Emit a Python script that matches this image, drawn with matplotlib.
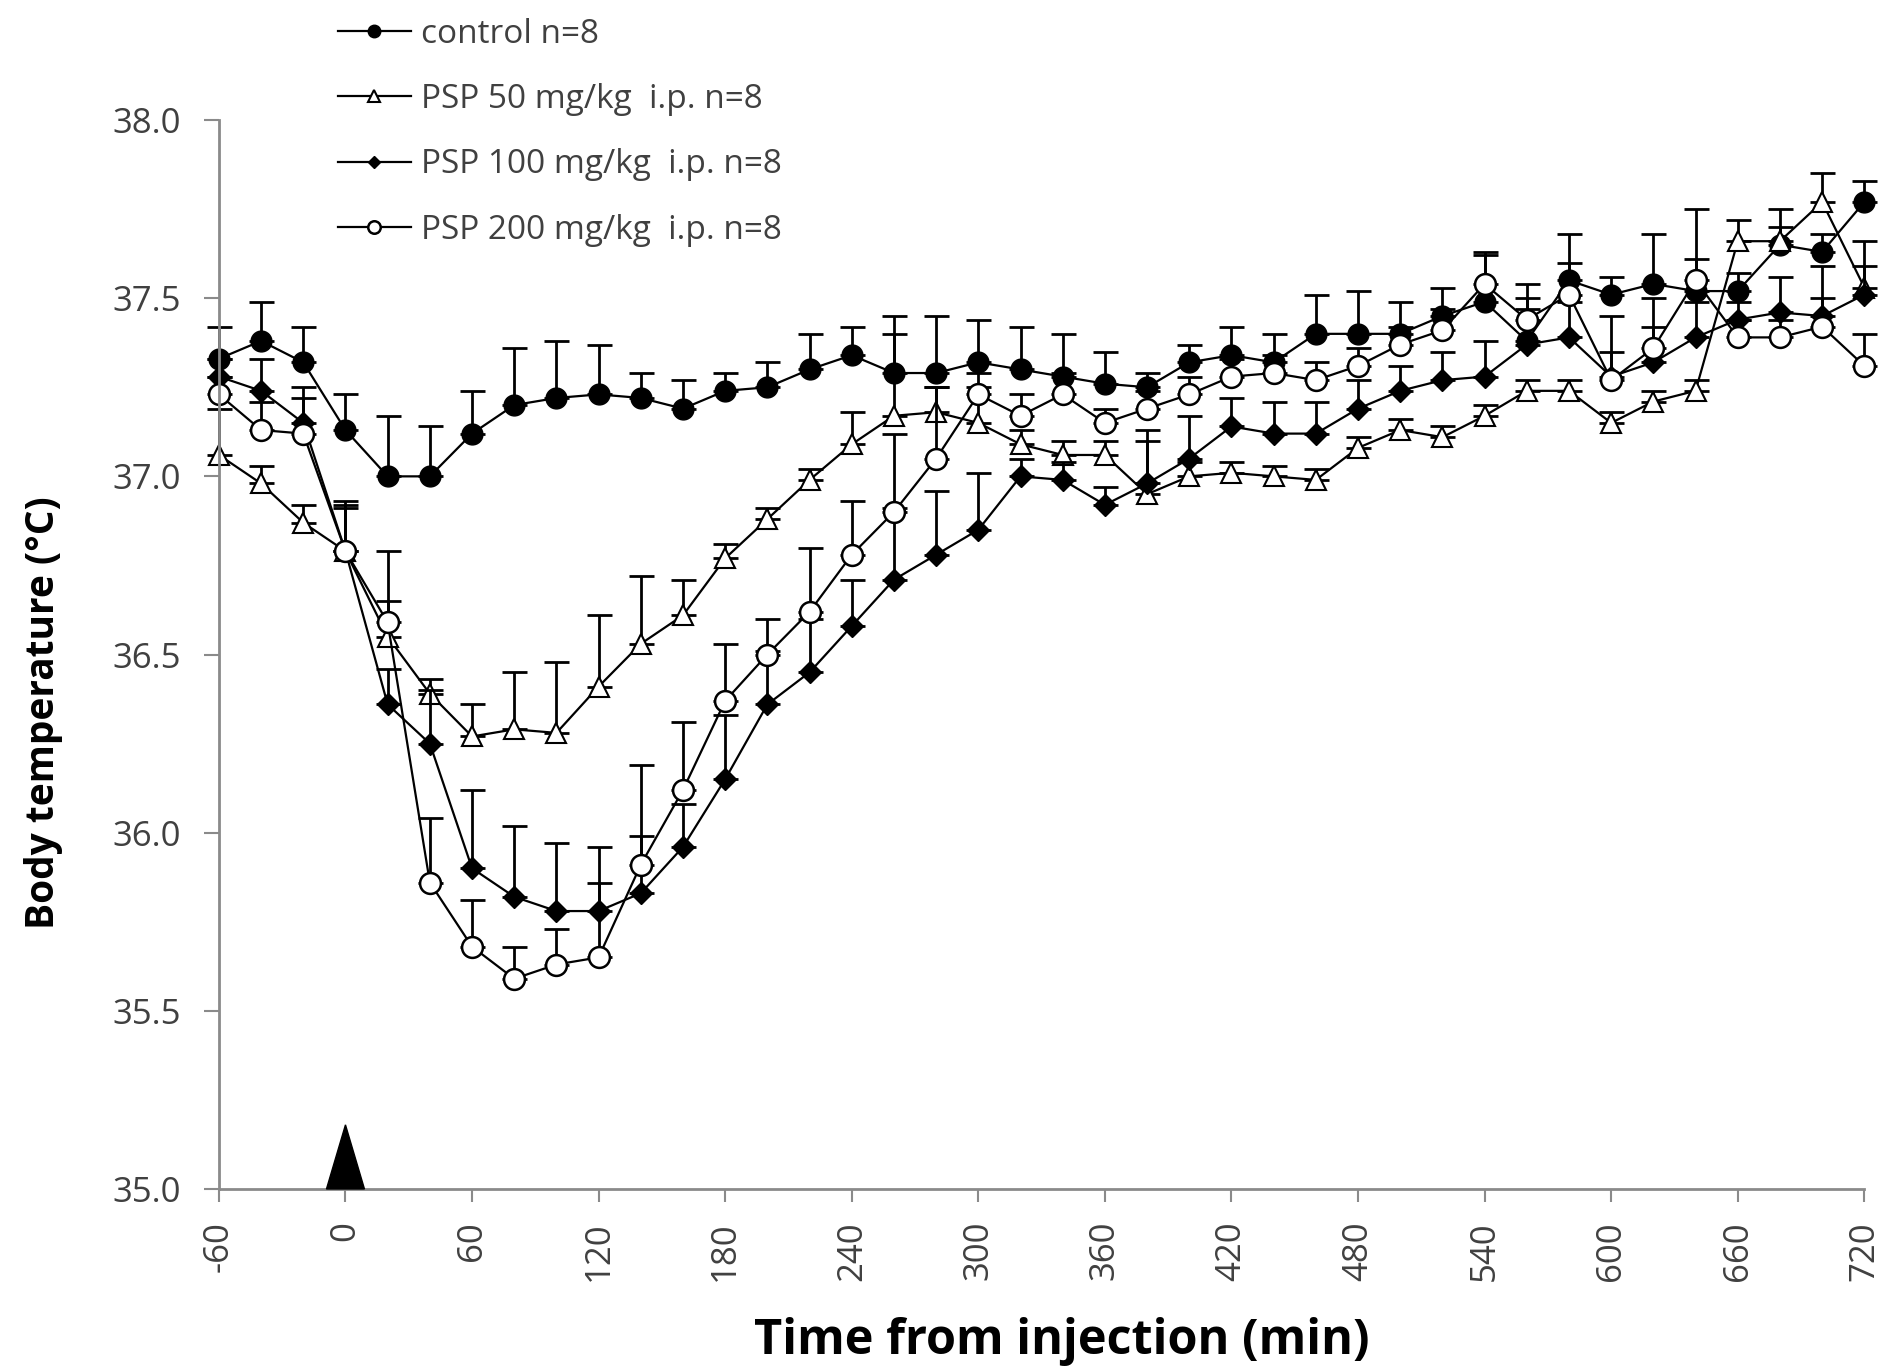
import numpy as np
import matplotlib
matplotlib.use("Agg")
from matplotlib import pyplot as plt

plt.rcParams['font.family'] = ['Open Sans', 'DejaVu Sans']

# time from injection (min)
t = np.arange(-60, 721, 20)

control = [37.33, 37.38, 37.32, 37.13, 37.00, 37.00, 37.12, 37.20, 37.22, 37.23,
           37.22, 37.19, 37.24, 37.25, 37.30, 37.34, 37.29, 37.29, 37.32, 37.30,
           37.28, 37.26, 37.25, 37.32, 37.34, 37.32, 37.40, 37.40, 37.40, 37.45,
           37.49, 37.38, 37.55, 37.51, 37.54, 37.52, 37.52, 37.65, 37.63, 37.77]
control_err = [0.09, 0.11, 0.10, 0.10, 0.17, 0.14, 0.12, 0.16, 0.16, 0.14,
               0.07, 0.08, 0.05, 0.07, 0.10, 0.08, 0.16, 0.16, 0.12, 0.12,
               0.12, 0.09, 0.04, 0.05, 0.08, 0.08, 0.11, 0.12, 0.09, 0.08,
               0.13, 0.12, 0.13, 0.05, 0.14, 0.23, 0.05, 0.05, 0.05, 0.06]

psp50 = [37.06, 36.98, 36.87, 36.79, 36.55, 36.39, 36.27, 36.29, 36.28, 36.41,
         36.53, 36.61, 36.77, 36.88, 36.99, 37.09, 37.17, 37.18, 37.15, 37.09,
         37.06, 37.06, 36.95, 37.00, 37.01, 37.00, 36.99, 37.08, 37.13, 37.11,
         37.17, 37.24, 37.24, 37.15, 37.21, 37.24, 37.66, 37.66, 37.77, 37.53]
psp50_err = [0.13, 0.05, 0.05, 0.13, 0.10, 0.04, 0.09, 0.16, 0.20, 0.20,
             0.19, 0.10, 0.04, 0.03, 0.03, 0.09, 0.23, 0.07, 0.10, 0.04,
             0.04, 0.04, 0.15, 0.04, 0.03, 0.03, 0.03, 0.03, 0.03, 0.03,
             0.03, 0.03, 0.03, 0.03, 0.03, 0.03, 0.06, 0.09, 0.08, 0.13]

psp100 = [37.28, 37.24, 37.15, 36.79, 36.36, 36.25, 35.90, 35.82, 35.78, 35.78,
          35.83, 35.96, 36.15, 36.36, 36.45, 36.58, 36.71, 36.78, 36.85, 37.00,
          36.99, 36.92, 36.98, 37.05, 37.14, 37.12, 37.12, 37.19, 37.24, 37.27,
          37.28, 37.37, 37.39, 37.28, 37.32, 37.39, 37.44, 37.46, 37.45, 37.51]
psp100_err = [0.05, 0.09, 0.10, 0.14, 0.10, 0.15, 0.22, 0.20, 0.19, 0.18,
              0.16, 0.12, 0.18, 0.15, 0.15, 0.13, 0.20, 0.18, 0.16, 0.05,
              0.05, 0.05, 0.15, 0.12, 0.08, 0.09, 0.09, 0.08, 0.07, 0.08,
              0.10, 0.10, 0.10, 0.07, 0.10, 0.10, 0.05, 0.10, 0.05, 0.08]

psp200 = [37.23, 37.13, 37.12, 36.79, 36.59, 35.86, 35.68, 35.59, 35.63, 35.65,
          35.91, 36.12, 36.37, 36.50, 36.62, 36.78, 36.90, 37.05, 37.23, 37.17,
          37.23, 37.15, 37.19, 37.23, 37.28, 37.29, 37.27, 37.31, 37.37, 37.41,
          37.54, 37.44, 37.51, 37.27, 37.36, 37.55, 37.39, 37.39, 37.42, 37.31]
psp200_err = [0.05, 0.08, 0.10, 0.12, 0.20, 0.18, 0.13, 0.09, 0.10, 0.21,
              0.28, 0.19, 0.16, 0.10, 0.18, 0.15, 0.22, 0.20, 0.06, 0.06,
              0.06, 0.04, 0.05, 0.05, 0.05, 0.05, 0.05, 0.05, 0.05, 0.06,
              0.09, 0.10, 0.09, 0.18, 0.14, 0.06, 0.05, 0.05, 0.17, 0.09]

labels = ["control n=8", "PSP 50 mg/kg  i.p. n=8",
          "PSP 100 mg/kg  i.p. n=8", "PSP 200 mg/kg  i.p. n=8"]
xticks = list(range(-60, 721, 60))
yticks = [35.0, 35.5, 36.0, 36.5, 37.0, 37.5, 38.0]
inject_t = 0

fig = plt.figure(figsize=(18.87, 13.72), dpi=100)
ax = fig.add_axes([0.116, 0.1334, 0.872, 0.7791])

series = [
    (control, control_err, dict(marker='o', ms=15, mfc='k', mec='k')),
    (psp50, psp50_err, dict(marker='^', ms=14, mfc='white', mec='k', mew=1.5)),
    (psp100, psp100_err, dict(marker='D', ms=11, mfc='k', mec='k')),
    (psp200, psp200_err, dict(marker='o', ms=15, mfc='white', mec='k', mew=1.8)),
]
handles = []
for (vals, err, style), lab in zip(series, labels):
    vals = np.array(vals)
    err = np.array(err)
    ax.errorbar(t, vals, yerr=[np.zeros_like(err), err], fmt='none',
                ecolor='k', elinewidth=2, capsize=9, capthick=2, clip_on=False)
    h, = ax.plot(t, vals, color='k', lw=1.6, label=lab, clip_on=False, **style)
    handles.append(h)

# injection arrowhead
ax.fill([inject_t - 9, inject_t, inject_t + 9], [35.0, 35.18, 35.0],
        color='k', clip_on=False, zorder=5)

ax.set_xlim(-60, 720)
ax.set_ylim(35.0, 38.0)
ax.set_xticks(xticks)
ax.set_xticklabels([str(x) for x in xticks], rotation=90)
ax.set_yticks(yticks)
ax.set_yticklabels([f"{y:.1f}" for y in yticks])

for side in ['top', 'right']:
    ax.spines[side].set_visible(False)
for side in ['left', 'bottom']:
    ax.spines[side].set_color('#8a8a8a')
    ax.spines[side].set_linewidth(2)
ax.tick_params(axis='both', colors='#8a8a8a', labelcolor='#404040',
               labelsize=25, width=1.5, direction='out')
ax.tick_params(axis='y', length=11, pad=16)
ax.tick_params(axis='x', length=9, pad=14)

ax.set_xlabel("Time from injection (min)", fontsize=35, fontweight='bold')
ax.xaxis.set_label_coords(0.512, -0.12)
ax.set_ylabel("Body temperature (°C)", fontsize=28, fontweight='bold')
ax.yaxis.set_label_coords(-0.095, 0.446)

fig.legend(handles=handles, loc='upper left', bbox_to_anchor=(0.163, 1.009),
           frameon=False, fontsize=24, markerscale=0.6, handlelength=2.2,
           labelspacing=0.97, handletextpad=0.3, labelcolor='#404040')

fig.savefig("out.png", dpi=100)
